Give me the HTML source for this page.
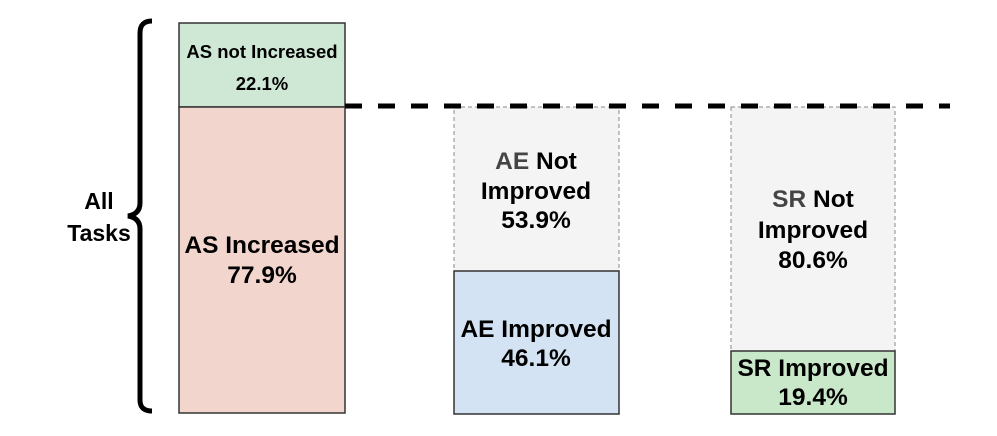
<!DOCTYPE html>
<html><head><meta charset="utf-8"><style>
html,body{margin:0;padding:0;background:#fff;}
svg{display:block;font-family:"Liberation Sans",Arial,sans-serif;font-weight:bold;}
</style></head><body>
<svg width="997" height="436" viewBox="0 0 997 436" xmlns="http://www.w3.org/2000/svg">
<!-- brace -->
<path d="M152 21 Q140 21 140 33 L140 203 Q140 214 128 216 Q140 218 140 229 L140 400 Q140 411 152 411" fill="none" stroke="#000" stroke-width="5"/>
<text x="99" y="209" font-size="23" text-anchor="middle">All</text>
<text x="99" y="241" font-size="23" text-anchor="middle">Tasks</text>
<!-- AS bar -->
<rect x="179" y="23" width="166" height="84" fill="#cfe8d5" stroke="#333" stroke-width="1.5"/>
<rect x="179" y="107" width="166" height="306" fill="#f2d5cd" stroke="#333" stroke-width="1.5"/>
<text x="262" y="58" font-size="18.5" text-anchor="middle">AS not Increased</text>
<text x="262" y="90" font-size="18.5" text-anchor="middle">22.1%</text>
<text x="262" y="253" font-size="24.5" text-anchor="middle">AS Increased</text>
<text x="262" y="283" font-size="24.5" text-anchor="middle">77.9%</text>
<!-- AE bar -->
<rect x="454" y="107" width="165" height="164" fill="#f4f4f4" stroke="#888" stroke-width="1" stroke-dasharray="4,3"/>
<rect x="454" y="271" width="165" height="143" fill="#d4e3f3" stroke="#333" stroke-width="1.5"/>
<text x="536" y="169" font-size="24.5" text-anchor="middle"><tspan fill="#444">AE</tspan> Not</text>
<text x="536" y="199" font-size="24.5" text-anchor="middle">Improved</text>
<text x="536" y="228" font-size="24.5" text-anchor="middle">53.9%</text>
<text x="536" y="337" font-size="24.5" text-anchor="middle">AE Improved</text>
<text x="536" y="366" font-size="24.5" text-anchor="middle">46.1%</text>
<!-- SR bar -->
<rect x="731" y="107" width="164" height="244" fill="#f4f4f4" stroke="#888" stroke-width="1" stroke-dasharray="4,3"/>
<rect x="731" y="351" width="164" height="63" fill="#c9e8c9" stroke="#333" stroke-width="1.5"/>
<text x="813" y="207" font-size="24.5" text-anchor="middle"><tspan fill="#444">SR</tspan> Not</text>
<text x="813" y="238" font-size="24.5" text-anchor="middle">Improved</text>
<text x="813" y="268" font-size="24.5" text-anchor="middle">80.6%</text>
<text x="813" y="376" font-size="24.5" text-anchor="middle">SR Improved</text>
<text x="813" y="405" font-size="24.5" text-anchor="middle">19.4%</text>
<!-- dashed line -->
<line x1="345" y1="106" x2="950" y2="106" stroke="#000" stroke-width="5" stroke-dasharray="17,16"/>
</svg>
</body></html>
